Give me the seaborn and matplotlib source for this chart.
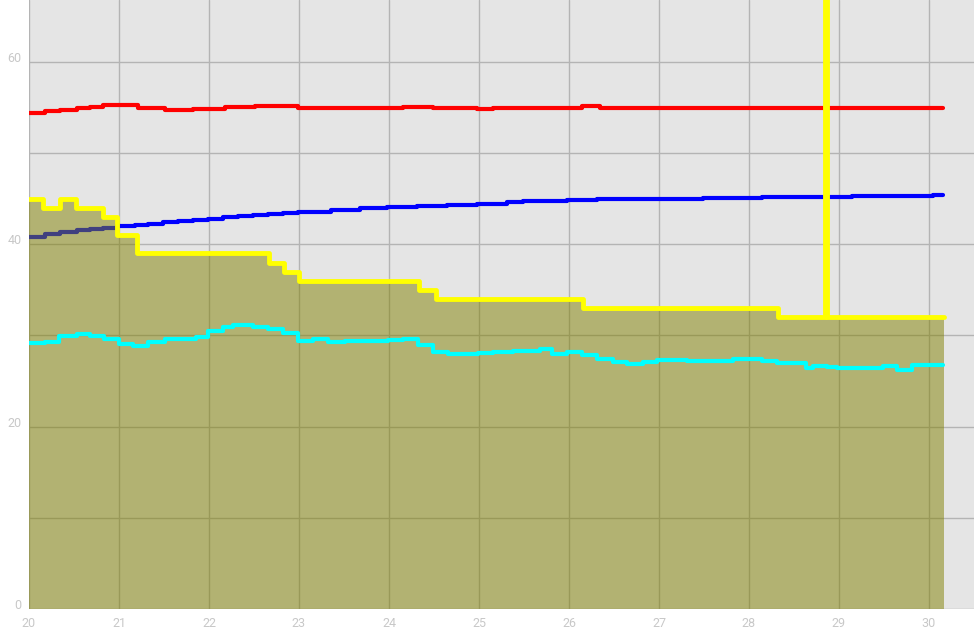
import numpy as np
import pandas as pd
import matplotlib
matplotlib.use("Agg")
import matplotlib.pyplot as plt
from matplotlib.ticker import MultipleLocator
import seaborn as sns

# step series, x = day, y = value (each value holds until the next x)
red_x = [20.0, 20.18, 20.34, 20.53, 20.68, 20.82, 21.21, 21.51, 21.82, 22.18, 22.51,
         22.99, 24.16, 24.49, 24.98, 25.16, 25.54, 26.15, 26.35, 26.51, 30.16]
red_y = [54.46, 54.64, 54.75, 54.93, 55.04, 55.3, 54.93, 54.68, 54.82, 55.04, 55.15,
         54.93, 55.1, 54.9, 54.79, 54.93, 55.0, 55.15, 55.0, 54.9, 54.9]

blue_x = [20.0, 20.18, 20.34, 20.53, 20.68, 20.82, 20.98, 21.18, 21.32, 21.49, 21.66,
          21.82, 21.99, 22.16, 22.32, 22.49, 22.66, 22.82, 22.99, 23.35, 23.68, 23.98,
          24.31, 24.65, 24.98, 25.31, 25.49, 25.98, 26.31, 27.49, 28.15, 29.15, 30.05, 30.16]
blue_y = [40.76, 41.15, 41.37, 41.56, 41.67, 41.78, 41.96, 42.1, 42.25, 42.4, 42.58,
          42.69, 42.8, 42.98, 43.13, 43.24, 43.35, 43.42, 43.57, 43.75, 43.97, 44.08,
          44.22, 44.33, 44.4, 44.59, 44.7, 44.81, 44.96, 45.1, 45.21, 45.32, 45.43, 45.43]

cyan_x = [20.0, 20.18, 20.33, 20.53, 20.68, 20.83, 21.0, 21.16, 21.32, 21.51, 21.85,
          21.99, 22.16, 22.27, 22.49, 22.66, 22.82, 22.99, 23.16, 23.32, 23.51, 23.82,
          23.99, 24.16, 24.32, 24.49, 24.66, 24.99, 25.16, 25.38, 25.68, 25.81, 25.98,
          26.15, 26.31, 26.49, 26.65, 26.82, 26.98, 27.31, 27.6, 27.82, 27.99, 28.15,
          28.31, 28.63, 28.71, 28.87, 28.98, 29.49, 29.65, 29.81, 30.16]
cyan_y = [29.13, 29.28, 29.97, 30.12, 29.97, 29.57, 29.02, 28.84, 29.24, 29.6, 29.82,
          30.52, 30.96, 31.1, 30.92, 30.67, 30.23, 29.42, 29.57, 29.31, 29.42, 29.35,
          29.5, 29.64, 28.95, 28.14, 27.92, 28.1, 28.17, 28.32, 28.47, 27.92, 28.17,
          27.85, 27.41, 27.05, 26.86, 27.05, 27.27, 27.16, 27.2, 27.38, 27.45, 27.23,
          26.97, 26.46, 26.64, 26.5, 26.42, 26.6, 26.2, 26.75, 26.75]

limit_x = [20.0, 20.16, 20.34, 20.52, 20.82, 20.98, 21.2, 22.67, 22.83, 23.0, 24.33,
           24.52, 26.16, 28.32, 30.17]
limit_y = [45, 44, 45, 44, 43, 41, 39, 38, 37, 36, 35, 34, 33, 32, 32]

# one spike in the yellow line, well above the top of the chart
spike_x = [28.84, 28.87]
spike_y = [90, 32]

# yellow line = limit steps with the spike inserted
yel = pd.DataFrame({"x": limit_x + spike_x, "y": limit_y + spike_y}).sort_values("x")

sns.set_style("whitegrid", {"axes.facecolor": "#e5e5e5", "grid.color": "#b4b4b4",
                            "axes.edgecolor": "#e5e5e5"})
plt.rcParams["font.family"] = ["Roboto", "DejaVu Sans"]

fig = plt.figure(figsize=(9.79, 6.44), dpi=100)
ax = fig.add_axes([29 / 979, 35 / 644, 945 / 979, 609 / 644])

lw = 3.0
sns.lineplot(x=blue_x, y=blue_y, drawstyle="steps-post", color="#0000ff", lw=lw,
             estimator=None, ax=ax, zorder=2)
sns.lineplot(x=red_x, y=red_y, drawstyle="steps-post", color="#ff0000", lw=lw,
             estimator=None, ax=ax, zorder=4)
ax.fill_between(limit_x, limit_y, step="post", color="#808000", alpha=0.5, lw=0, zorder=3)
sns.lineplot(x=cyan_x, y=cyan_y, drawstyle="steps-post", color="#00ffff", lw=lw,
             estimator=None, ax=ax, zorder=4)
sns.lineplot(data=yel, x="x", y="y", drawstyle="steps-post", color="#ffff00", lw=lw + 0.5,
             estimator=None, ax=ax, zorder=5)

ax.set_xlim(20, 30.5)
ax.set_ylim(0, 66.8)
ax.xaxis.set_major_locator(MultipleLocator(1))
ax.yaxis.set_major_locator(MultipleLocator(20))
ax.yaxis.set_minor_locator(MultipleLocator(10))
ax.grid(True, which="both", color="#b4b4b4", lw=1)
ax.set_axisbelow(True)
for s in ax.spines.values():
    s.set_visible(False)
ax.set_xlabel("")
ax.set_ylabel("")
ax.tick_params(axis="both", which="major", length=4, width=1, color="#c8c8c8",
               labelcolor="#c8c8c8", labelsize=9, pad=1.5)
ax.tick_params(axis="y", which="minor", length=0)
for t in ax.get_yticklabels():
    t.set_verticalalignment("baseline")

fig.savefig("out.png", dpi=100)
